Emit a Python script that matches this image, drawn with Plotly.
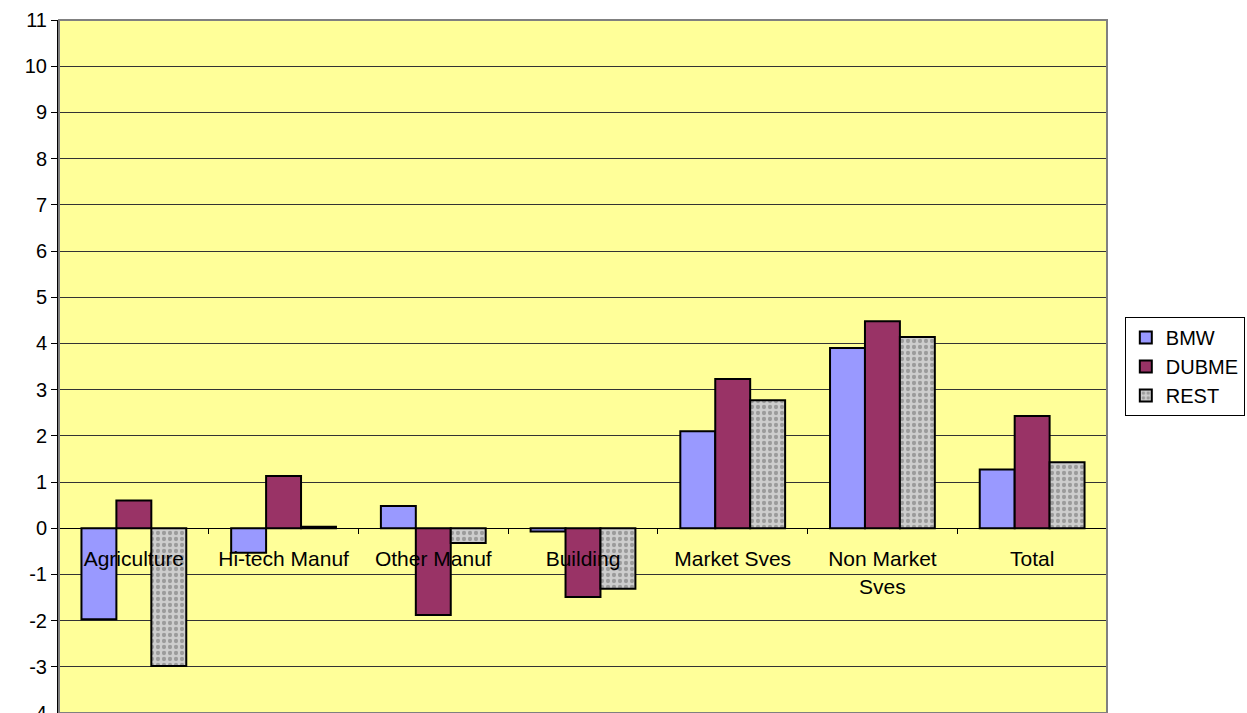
import plotly.graph_objects as go

# Sectors along the category axis
categories = ["Agriculture", "Hi-tech Manuf", "Other Manuf", "Building",
              "Market Sves", "Non Market<br>Sves", "Total"]

# Values per region
bmw = [-1.97, -0.53, 0.48, -0.07, 2.10, 3.90, 1.27]
dubme = [0.60, 1.13, -1.88, -1.49, 3.23, 4.48, 2.43]
rest = [-2.98, 0.03, -0.32, -1.31, 2.77, 4.14, 1.43]

# Value axis ticks, written with a plain hyphen for negatives
y_ticks = list(range(-4, 12))
y_tick_text = [str(v) for v in y_ticks]

y_min, y_max = -4, 11

fig = go.Figure()
fig.add_trace(go.Bar(name="BMW", x=categories, y=bmw,
                     marker=dict(color="#9999FF", line=dict(color="black", width=2))))
fig.add_trace(go.Bar(name="DUBME", x=categories, y=dubme,
                     marker=dict(color="#993366", line=dict(color="black", width=2))))
fig.add_trace(go.Bar(name="REST", x=categories, y=rest,
                     marker=dict(color="#BDBDBD", line=dict(color="black", width=2),
                                 pattern=dict(shape=".", bgcolor="#CDCDCD",
                                              fgcolor="#6A6A6A", size=6,
                                              solidity=0.4, fillmode="overlay"))))

# Category axis sits on the zero line, as a free axis
zero_pos = (0 - y_min) / (y_max - y_min)

fig.update_layout(
    width=1247, height=713,
    margin=dict(l=59, r=140, t=20, b=0, pad=0, autoexpand=False),
    paper_bgcolor="white",
    plot_bgcolor="#FFFF99",
    barmode="group",
    bargap=0.3,
    bargroupgap=0,
    font=dict(family="Liberation Sans, Arial, sans-serif", size=20, color="black"),
    xaxis=dict(
        type="category",
        anchor="free",
        position=zero_pos,
        automargin=False,
        showline=True, linecolor="black", linewidth=1,
        ticks="outside", tickson="boundaries", ticklen=5, tickcolor="black",
        ticklabelstandoff=12,
        showgrid=False,
        tickfont=dict(size=21),
        layer="above traces",
    ),
    yaxis=dict(
        range=[y_min, y_max],
        automargin=False,
        tickmode="array", tickvals=y_ticks, ticktext=y_tick_text,
        showline=True, linecolor="black", linewidth=2,
        ticks="outside", ticklen=6, tickcolor="black",
        ticklabeloverflow="allow",
        showgrid=True, gridcolor="#333333", gridwidth=1,
        zeroline=False,
        tickfont=dict(size=20),
    ),
    legend=dict(
        x=1.017, y=0.5, xanchor="left", yanchor="middle",
        bgcolor="white", bordercolor="black", borderwidth=1,
        font=dict(size=20),
        traceorder="normal",
        itemwidth=30,
    ),
    showlegend=True,
)

# Gray frame round the plotting area
fig.add_shape(type="rect", xref="paper", yref="paper", x0=0, x1=1, y0=0, y1=1,
              line=dict(color="#808080", width=2), fillcolor="rgba(0,0,0,0)",
              layer="above")

fig.write_html("out.html")
